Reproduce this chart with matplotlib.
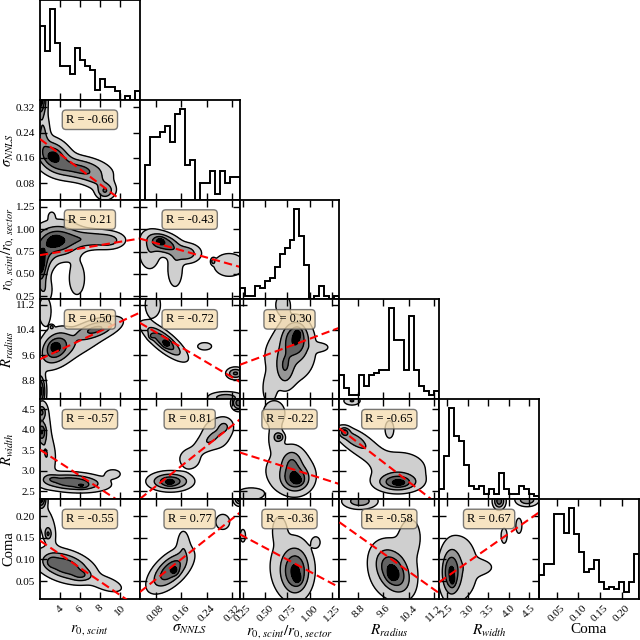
import numpy as np
import matplotlib
matplotlib.use('Agg')
import matplotlib.pyplot as plt
from matplotlib.ticker import FormatStrFormatter, FixedLocator

plt.rcParams['font.family'] = ['Liberation Serif', 'DejaVu Serif']
plt.rcParams['mathtext.fontset'] = 'stix'

# ---------------- data ----------------
labels = [r'$r_{0,\,scint}$', r'$\sigma_{NNLS}$', r'$r_{0,\,scint}/r_{0,\,sector}$',
          r'$R_{radius}$', r'$R_{width}$', 'Coma']
ranges = [(2.0, 12.0), (0.029, 0.343), (0.213, 1.333), (8.20, 11.37), (2.31, 4.74), (0.009, 0.240)]
ticks = [[4, 6, 8, 10], [0.08, 0.16, 0.24, 0.32], [0.25, 0.50, 0.75, 1.00, 1.25],
         [8.8, 9.6, 10.4, 11.2], [2.5, 3.0, 3.5, 4.0, 4.5], [0.05, 0.10, 0.15, 0.20]]
tick_fmt = ['%g', '%.2f', '%.2f', '%.1f', '%.1f', '%.2f']

hist_r0 = [220, 145, 270, 170, 102, 102, 78, 155, 117, 102, 88, 28, 62, 38, 38, 25, 0, 10, 0, 25]
hist_sigma = [0, 103, 185, 185, 200, 218, 170, 255, 270, 102, 117, 0, 50, 50, 85, 17, 85, 50, 68, 68]
hist_ratio = [33, 10, 10, 40, 33, 55, 63, 95, 135, 152, 177, 270, 190, 102, 0, 10, 40, 10, 0, 10]
hist_rradius = [72, 32, 12, 12, 72, 40, 72, 78, 88, 88, 270, 175, 175, 88, 248, 88, 40, 25, 12, 25]
hist_rwidth = [30, 128, 272, 188, 175, 102, 38, 30, 38, 15, 30, 15, 77, 30, 15, 15, 38, 30, 15, 10]
hist_coma = [72, 105, 105, 255, 255, 198, 272, 195, 140, 80, 90, 115, 50, 28, 35, 28, 50, 20, 50, 135]
hists = [hist_r0, hist_sigma, hist_ratio, hist_rradius, hist_rwidth, hist_coma]

# Pearson R for each (row, col) pair
pearson_r = {(1, 0): -0.66, (2, 0): 0.21, (2, 1): -0.43, (3, 0): 0.50, (3, 1): -0.72,
             (3, 2): 0.30, (4, 0): -0.57, (4, 1): 0.81, (4, 2): -0.22, (4, 3): -0.65,
             (5, 0): -0.55, (5, 1): 0.77, (5, 2): -0.36, (5, 3): -0.58, (5, 4): 0.67}

# linear fit (slope, intercept) for each pair
fits = {(1, 0): (-0.02367, 0.267), (2, 0): (0.0187, 0.672), (2, 1): (-1.01, 0.925),
        (3, 0): (0.148, 9.174), (3, 1): (-5.96, 10.80), (3, 2): (1.054, 9.065),
        (4, 0): (-0.158, 3.826), (4, 1): (6.15, 2.132), (4, 2): (-0.6875, 3.591),
        (4, 3): (-0.591, 8.876), (5, 0): (-0.0157, 0.175), (5, 1): (0.584, 0.0076),
        (5, 2): (-0.110, 0.182), (5, 3): (-0.0518, 0.611), (5, 4): (0.0664, -0.1058)}

# 2D density components: (cx, cy, sx, sy, rho, weight)
density = {
    (1, 0): [(3.33, 0.165, 1.0, 0.03, -0.3, 0.8), (3.33, 0.165, 0.35, 0.01, 0, 0.35),
             (6.0, 0.125, 1.6, 0.022, -0.3, 0.6), (8.5, 0.055, 0.5, 0.014, 0, 0.5),
             (7.8, 0.085, 1.0, 0.02, -0.5, 0.22), (2.0, 0.343, 0.35, 0.03, 0, 1.1),
             (2.3, 0.24, 0.4, 0.04, 0, 0.3)],
    (2, 0): [(3.8, 0.87, 1.3, 0.11, 0, 0.8), (3.5, 0.866, 0.5, 0.05, 0, 0.35),
             (7.0, 0.89, 1.6, 0.06, 0, 0.45), (9.0, 0.87, 0.8, 0.05, 0, 0.25),
             (2.0, 0.60, 0.4, 0.12, 0, 1.05), (5.7, 0.45, 0.5, 0.12, 0, 0.22),
             (2.4, 0.32, 0.5, 0.1, 0, 0.25), (3.17, 1.146, 0.2, 0.03, 0, 0.2),
             (2.5, 0.72, 0.6, 0.12, 0, 0.4)],
    (2, 1): [(0.105, 0.84, 0.03, 0.07, -0.4, 0.8), (0.092, 0.87, 0.01, 0.03, 0, 0.35),
             (0.175, 0.73, 0.025, 0.06, 0, 0.45), (0.14, 0.55, 0.014, 0.12, 0, 0.25),
             (0.31, 0.6, 0.03, 0.08, 0, 0.25), (0.26, 0.64, 0.004, 0.02, 0, 0.45),
             (0.06, 0.75, 0.02, 0.12, 0, 0.25)],
    (3, 0): [(3.6, 9.86, 0.9, 0.3, 0.3, 0.8), (3.5, 9.86, 0.3, 0.1, 0, 0.35),
             (7.5, 10.42, 1.2, 0.17, 0.5, 0.5), (6.0, 10.0, 2.5, 0.5, 0.85, 0.2),
             (2.5, 11.0, 0.4, 0.3, 0, 0.22), (2.0, 8.45, 0.3, 0.3, 0, 1.0),
             (3.17, 10.49, 0.12, 0.04, 0, 0.45)],
    (3, 1): [(0.105, 10.04, 0.035, 0.3, -0.8, 0.8), (0.113, 9.97, 0.008, 0.08, 0, 0.35),
             (0.066, 10.2, 0.006, 0.06, 0, 0.3), (0.07, 11.2, 0.015, 0.25, 0, 0.25),
             (0.233, 9.88, 0.015, 0.08, 0, 0.2), (0.33, 9.02, 0.015, 0.1, 0, 0.6),
             (0.30, 8.25, 0.03, 0.1, 0, 0.45)],
    (3, 2): [(0.84, 10.1, 0.09, 0.35, 0, 0.8), (0.866, 10.3, 0.03, 0.12, 0, 0.35),
             (0.72, 9.2, 0.06, 0.35, 0, 0.4), (0.77, 9.56, 0.18, 0.55, 0, 0.22),
             (0.70, 11.2, 0.05, 0.2, 0, 0.25), (1.11, 9.85, 0.06, 0.08, 0, 0.2),
             (0.55, 8.5, 0.05, 0.3, 0, 0.18)],
    (4, 0): [(5.2, 2.72, 1.8, 0.12, -0.2, 0.8), (6.2, 2.63, 0.4, 0.04, 0, 0.35),
             (3.3, 2.80, 0.4, 0.05, 0, 0.2), (9.3, 2.92, 0.5, 0.07, 0, 0.2),
             (2.3, 3.9, 0.5, 0.5, 0, 0.22), (2.15, 3.94, 0.25, 0.12, 0, 0.7),
             (2.15, 4.42, 0.25, 0.1, 0, 0.5), (2.8, 3.3, 0.5, 0.3, 0, 0.2)],
    (4, 1): [(0.125, 2.74, 0.035, 0.12, 0, 0.8), (0.123, 2.716, 0.01, 0.05, 0, 0.35),
             (0.186, 3.28, 0.02, 0.15, 0, 0.22), (0.296, 4.08, 0.015, 0.12, 0, 0.22),
             (0.24, 3.7, 0.03, 0.2, 0.7, 0.2),
             (0.34, 4.65, 0.012, 0.1, 0, 0.7), (0.27, 3.9, 0.03, 0.25, 0, 0.18)],
    (4, 2): [(0.84, 2.8, 0.09, 0.18, 0, 0.8), (0.866, 2.755, 0.03, 0.05, 0, 0.35),
             (0.8, 3.2, 0.07, 0.2, 0, 0.4), (0.77, 3.0, 0.18, 0.35, 0, 0.2),
             (0.6, 4.4, 0.08, 0.2, 0, 0.22), (0.62, 3.8, 0.05, 0.2, 0, 0.22),
             (0.66, 3.82, 0.03, 0.06, 0, 0.45), (0.33, 2.43, 0.1, 0.1, 0, 0.2)],
    (4, 3): [(10.05, 2.72, 0.35, 0.12, 0, 0.8), (10.1, 2.7, 0.12, 0.04, 0, 0.35),
             (10.1, 3.03, 0.6, 0.3, 0, 0.18), (9.79, 4.01, 0.1, 0.15, 0, 0.18),
             (8.9, 3.6, 0.45, 0.25, -0.7, 0.22),
             (8.6, 3.8, 0.3, 0.15, -0.6, 0.25), (8.36, 3.94, 0.1, 0.07, 0, 0.5),
             (8.6, 4.7, 0.15, 0.06, 0, 0.3)],
    (5, 0): [(4.5, 0.085, 1.5, 0.02, -0.4, 0.8), (3.17, 0.094, 0.35, 0.008, 0, 0.3),
             (6.17, 0.063, 0.6, 0.008, 0, 0.3), (8.7, 0.043, 1.0, 0.012, -0.5, 0.2),
             (2.1, 0.24, 0.3, 0.012, 0, 1.0), (2.7, 0.18, 0.6, 0.03, -0.5, 0.2),
             (2.8, 0.159, 0.2, 0.008, 0, 0.45)],
    (5, 1): [(0.125, 0.075, 0.035, 0.025, 0.6, 0.8), (0.139, 0.074, 0.008, 0.007, 0, 0.35),
             (0.166, 0.136, 0.012, 0.02, 0, 0.2), (0.29, 0.187, 0.015, 0.012, 0, 0.2),
             (0.343, 0.24, 0.01, 0.008, 0, 0.7)],
    (5, 2): [(0.84, 0.072, 0.09, 0.03, 0, 0.8), (0.866, 0.055, 0.03, 0.008, 0, 0.35),
             (0.78, 0.085, 0.15, 0.045, 0, 0.2), (0.66, 0.17, 0.05, 0.02, 0, 0.18),
             (1.07, 0.14, 0.03, 0.008, 0, 0.2), (0.25, 0.155, 0.02, 0.01, 0, 0.2)],
    (5, 3): [(9.9, 0.072, 0.3, 0.028, -0.4, 0.8), (9.89, 0.063, 0.1, 0.008, 0, 0.35),
             (10.45, 0.155, 0.2, 0.025, 0, 0.2), (9.9, 0.08, 0.5, 0.045, 0, 0.2),
             (8.85, 0.235, 0.3, 0.01, 0, 0.45)],
    (5, 4): [(2.6, 0.07, 0.13, 0.03, 0, 0.8), (2.634, 0.051, 0.04, 0.008, 0, 0.35),
             (2.8, 0.08, 0.3, 0.05, 0, 0.2), (3.28, 0.082, 0.2, 0.01, 0, 0.2),
             (3.89, 0.155, 0.05, 0.012, 0, 0.2), (4.25, 0.178, 0.05, 0.012, 0, 0.2),
             (3.77, 0.235, 0.08, 0.01, 0, 0.7), (4.45, 0.238, 0.15, 0.008, 0, 0.5)],
}

levels = [0.07, 0.28, 0.55, 0.88, 100]
fill_colors = ['#cfcfcf', '#979797', '#636363', '#000000']

# ---------------- figure ----------------
fig = plt.figure(figsize=(6.4, 6.4), dpi=100)
n = 6
W = 99.8 / 640
L = 40 / 640


def style(ax):
    for s in ax.spines.values():
        s.set_linewidth(1.3)
    ax.tick_params(direction='in', length=5, width=1.0, labelsize=8,
                   top=True, right=True, bottom=True, left=True)


axes = {}
for i in range(n):
    for j in range(i + 1):
        ax = fig.add_axes([L + j * W, 1 - (i + 1) * W, W, W])
        axes[i, j] = ax
        style(ax)
        xr = ranges[j]
        ax.set_xlim(*xr)
        ax.xaxis.set_major_locator(FixedLocator(ticks[j]))
        ax.xaxis.set_major_formatter(FormatStrFormatter(tick_fmt[j]))
        if i == j:
            edges = np.linspace(xr[0], xr[1], len(hists[j]) + 1)
            h = np.array(hists[j], dtype=float)
            ax.stairs(h, edges, color='k', lw=1.4)
            ax.set_ylim(0, 1.1 * h.max())
            ax.set_yticks([])
            ax.tick_params(left=False, right=False)
        else:
            yr = ranges[i]
            xs = np.linspace(xr[0], xr[1], 220)
            ys = np.linspace(yr[0], yr[1], 220)
            X, Y = np.meshgrid(xs, ys)
            Z = np.zeros_like(X)
            for cx, cy, sx, sy, rho, w in density[i, j]:
                u = (X - cx) / sx
                v = (Y - cy) / sy
                q = (u * u - 2 * rho * u * v + v * v) / (1 - rho * rho)
                Z += w * np.exp(-0.5 * q)
            ax.contourf(X, Y, Z, levels=levels, colors=fill_colors, zorder=1)
            ax.contour(X, Y, Z, levels=levels[:-1], colors='k', linewidths=1.0, zorder=2)
            a, b = fits[i, j]
            xx = np.array(xr)
            ax.plot(xx, a * xx + b, color='red', ls='--', lw=1.5, dashes=(4, 2), zorder=3)
            ax.set_ylim(*yr)
            ax.yaxis.set_major_locator(FixedLocator(ticks[i]))
            ax.yaxis.set_major_formatter(FormatStrFormatter(tick_fmt[i]))
            ax.text(0.5, 0.8, f'R = {pearson_r[i, j]:.2f}', transform=ax.transAxes,
                    ha='center', va='center', fontsize=9, zorder=5,
                    bbox=dict(boxstyle='round,pad=0.3', fc='wheat', ec='0.35', alpha=0.8))
        # labels
        if i == n - 1:
            for lab in ax.get_xticklabels():
                lab.set_rotation(45)
                lab.set_ha('center')
            ax.set_xlabel(labels[j], fontsize=11)
            ax.xaxis.set_label_coords(0.5, -0.24)
        else:
            ax.set_xticklabels([])
        if j == 0 and i > 0:
            ax.set_ylabel(labels[i], fontsize=10.5)
            ax.yaxis.set_label_coords(-0.245, 0.5)
        elif i != j:
            ax.set_yticklabels([])

fig.savefig('out.png', dpi=100)
